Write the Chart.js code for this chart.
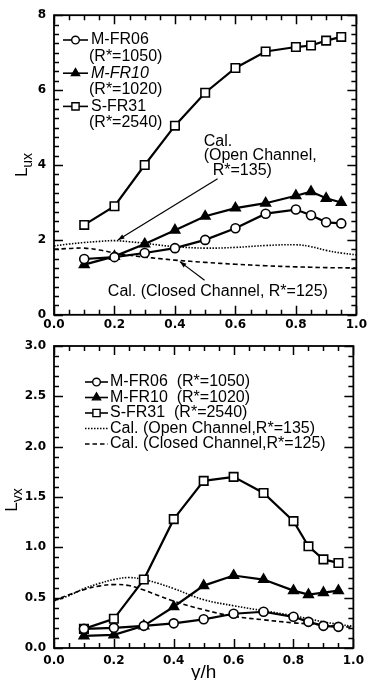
<!DOCTYPE html>
<html>
<head>
<meta charset="utf-8">
<script src="https://cdn.jsdelivr.net/npm/chart.js@4.4.1/dist/chart.umd.min.js"></script>
<style>
html, body { margin: 0; padding: 0; background: #fff; }
#wrap { position: relative; width: 370px; height: 680px; overflow: hidden; }
.box { position: absolute; left: 0; width: 370px; }
#top { top: 0; height: 330px; }
#bottom { top: 330px; height: 350px; }
</style>
</head>
<body>
<div id="wrap">
  <div class="box" id="top"><canvas id="luxChart" width="370" height="330"></canvas></div>
  <div class="box" id="bottom"><canvas id="lvxChart" width="370" height="350"></canvas></div>
</div>
<script>
// measurement stations (y/h)
var yh = [0.1, 0.2, 0.3, 0.4, 0.5, 0.6, 0.7, 0.8, 0.85, 0.9, 0.95];
// stations of the calculated profiles
var calYh = [0, 0.05, 0.1, 0.15, 0.2, 0.25, 0.3, 0.35, 0.4, 0.5, 0.6, 0.7, 0.8, 0.85, 0.9, 0.95, 1.0];

// streamwise length scale L_ux
var luxFR06 = [1.49, 1.54, 1.65, 1.78, 2.0, 2.31, 2.70, 2.81, 2.66, 2.47, 2.44];
var luxFR10 = [1.34, 1.56, 1.89, 2.26, 2.63, 2.85, 2.98, 3.18, 3.29, 3.11, 3.0];
var luxFR31 = [2.4, 2.9, 4.0, 5.05, 5.93, 6.59, 7.03, 7.15, 7.19, 7.32, 7.42];
var luxOpen = [1.84, 1.89, 1.93, 1.96, 1.98, 1.95, 1.91, 1.86, 1.82, 1.78, 1.80, 1.85, 1.87, 1.82, 1.72, 1.65, 1.60];
var luxClosed = [1.75, 1.77, 1.78, 1.73, 1.65, 1.59, 1.54, 1.50, 1.46, 1.40, 1.35, 1.31, 1.28, 1.27, 1.26, 1.255, 1.25];

// vertical length scale L_vx
var lvxFR06 = [0.19, 0.20, 0.22, 0.245, 0.285, 0.34, 0.36, 0.31, 0.26, 0.22, 0.21];
var lvxFR10 = [0.12, 0.13, 0.22, 0.41, 0.62, 0.72, 0.68, 0.57, 0.53, 0.55, 0.57];
var lvxFR31 = [0.19, 0.29, 0.68, 1.28, 1.66, 1.70, 1.54, 1.26, 1.01, 0.88, 0.845];
var lvxOpen = [0.47, 0.52, 0.59, 0.64, 0.68, 0.70, 0.68, 0.64, 0.59, 0.48, 0.42, 0.37, 0.32, 0.29, 0.26, 0.235, 0.215];
var lvxClosed = [0.47, 0.53, 0.58, 0.615, 0.63, 0.62, 0.575, 0.52, 0.465, 0.38, 0.315, 0.28, 0.25, 0.24, 0.228, 0.215, 0.205];

var xTicks = ['0.0', '0.2', '0.4', '0.6', '0.8', '1.0'];
var luxTicks = ['0', '2', '4', '6', '8'];
var lvxTicks = ['0.0', '0.5', '1.0', '1.5', '2.0', '2.5', '3.0'];

var FAMILY = '"Liberation Sans", Arial, sans-serif';

function pts(xs, ys) {
    return ys.map(function (v, i) { return { x: xs[i], y: v }; });
}

function measured(label, values, style, radius, fill) {
    return {
        label: label,
        data: pts(yh, values),
        showLine: true,
        borderColor: '#000',
        borderWidth: 2.2,
        pointStyle: style,
        pointRadius: radius,
        pointBorderWidth: 1.6,
        pointBorderColor: '#000',
        pointBackgroundColor: fill,
        clip: false
    };
}

function calc(label, values, dash) {
    return {
        label: label,
        data: pts(calYh, values),
        showLine: true,
        borderColor: '#000',
        borderWidth: 1.6,
        borderDash: dash,
        pointRadius: 0,
        tension: 0.4
    };
}

// frame with inward ticks on all four sides
function drawFrame(chart, c) {
    var ctx = chart.ctx, a = chart.chartArea;
    var xs = chart.scales.x, ys = chart.scales.y;
    function isMajor(v, step) { var r = v / step; return Math.abs(r - Math.round(r)) < 1e-6; }
    ctx.save();
    ctx.strokeStyle = '#000';
    ctx.lineWidth = 1.5;
    ctx.setLineDash([]);
    ctx.beginPath();
    var n = Math.round((c.xMax - c.xMin) / c.xMinor);
    for (var i = 0; i <= n; i++) {
        var v = c.xMin + i * c.xMinor;
        var px = Math.round(xs.getPixelForValue(v)) + 0.5;
        var len = isMajor(v, c.xMajor) ? 9 : 5;
        ctx.moveTo(px, a.bottom); ctx.lineTo(px, a.bottom - len);
        ctx.moveTo(px, a.top); ctx.lineTo(px, a.top + len);
    }
    n = Math.round((c.yMax - c.yMin) / c.yMinor);
    for (i = 0; i <= n; i++) {
        v = c.yMin + i * c.yMinor;
        var py = Math.round(ys.getPixelForValue(v)) + 0.5;
        len = isMajor(v, c.yMajor) ? 9 : 5;
        ctx.moveTo(a.left, py); ctx.lineTo(a.left + len, py);
        ctx.moveTo(a.right, py); ctx.lineTo(a.right - len, py);
    }
    ctx.stroke();
    ctx.lineWidth = 1.8;
    ctx.strokeRect(a.left, a.top, a.right - a.left, a.bottom - a.top);
    ctx.restore();
}

function drawKey(chart, ds, x0, x1, y) {
    var ctx = chart.ctx;
    ctx.save();
    ctx.strokeStyle = '#000';
    ctx.lineWidth = 1.6;
    ctx.setLineDash(ds.borderDash || []);
    ctx.beginPath();
    ctx.moveTo(x0, y); ctx.lineTo(x1, y);
    ctx.stroke();
    ctx.setLineDash([]);
    if (ds.pointRadius) {
        ctx.fillStyle = ds.pointBackgroundColor;
        ctx.strokeStyle = '#000';
        ctx.lineWidth = 1.4;
        Chart.helpers.drawPoint(ctx, {
            pointStyle: ds.pointStyle,
            radius: ds.pointRadius * 0.85,
            borderWidth: 1.4,
            rotation: 0
        }, (x0 + x1) / 2, y);
    }
    ctx.restore();
}

function drawArrow(ctx, x0, y0, x1, y1) {
    var ang = Math.atan2(y1 - y0, x1 - x0), h = 7;
    ctx.beginPath();
    ctx.moveTo(x0, y0); ctx.lineTo(x1, y1);
    ctx.stroke();
    ctx.beginPath();
    ctx.moveTo(x1, y1);
    ctx.lineTo(x1 - h * Math.cos(ang - 0.35), y1 - h * Math.sin(ang - 0.35));
    ctx.lineTo(x1 - h * Math.cos(ang + 0.35), y1 - h * Math.sin(ang + 0.35));
    ctx.closePath();
    ctx.fill();
}

function drawYTitle(ctx, cx, cy, main, sub) {
    ctx.save();
    ctx.translate(cx, cy);
    ctx.rotate(-Math.PI / 2);
    ctx.fillStyle = '#000';
    ctx.textBaseline = 'middle';
    ctx.font = '17px ' + FAMILY;
    var w1 = ctx.measureText(main).width;
    ctx.font = '14px ' + FAMILY;
    var w2 = ctx.measureText(sub).width;
    var start = -(w1 + w2) / 2;
    ctx.font = '17px ' + FAMILY;
    ctx.fillText(main, start, -2);
    ctx.font = '14px ' + FAMILY;
    ctx.fillText(sub, start + w1, 4);
    ctx.restore();
}

function decor(c) {
    return {
        id: 'decor',
        afterDraw: function (chart) {
            drawFrame(chart, c);
            var ctx = chart.ctx, xs = chart.scales.x, ys = chart.scales.y;
            var sets = chart.data.datasets;
            ctx.save();
            ctx.fillStyle = '#000';
            ctx.strokeStyle = '#000';
            ctx.textBaseline = 'middle';
            ctx.textAlign = 'left';
            // key
            c.key.forEach(function (k) {
                if (k.set !== undefined) drawKey(chart, sets[k.set], c.keyX0, c.keyX1, k.y);
                ctx.font = (k.italic ? 'italic ' : '') + '16px ' + FAMILY;
                ctx.fillText(k.text, k.x, k.y);
            });
            ctx.font = '16px ' + FAMILY;
            // notes and pointers, placed in data units
            (c.notes || []).forEach(function (n) {
                ctx.fillText(n.text, xs.getPixelForValue(n.x), ys.getPixelForValue(n.y));
            });
            ctx.lineWidth = 1.2;
            (c.pointers || []).forEach(function (p) {
                drawArrow(ctx, xs.getPixelForValue(p.from[0]), ys.getPixelForValue(p.from[1]),
                    xs.getPixelForValue(p.to[0]), ys.getPixelForValue(p.to[1]));
            });
            if (c.xTitle) {
                ctx.font = '19px ' + FAMILY;
                ctx.textAlign = 'center';
                ctx.fillText(c.xTitle, (chart.chartArea.left + chart.chartArea.right) / 2, c.xTitleY);
            }
            ctx.restore();
            drawYTitle(ctx, c.yTitleX, c.yTitleY, 'L', c.ySub);
        }
    };
}

function makeChart(id, sets, c, yLabels, yStep, areaTop, areaBottom, canvasH, xPad) {
    return new Chart(document.getElementById(id), {
        type: 'scatter',
        data: { datasets: sets },
        options: {
            responsive: false,
            animation: false,
            devicePixelRatio: 1,
            layout: { padding: { top: areaTop, right: 12, left: 0, bottom: 0 } },
            plugins: { legend: { display: false }, tooltip: { enabled: false } },
            scales: {
                x: {
                    type: 'linear', min: c.xMin, max: c.xMax,
                    grid: { display: false, drawTicks: false },
                    border: { display: false },
                    ticks: {
                        stepSize: 0.2, padding: xPad, color: '#000',
                        font: { family: 'DejaVu Sans', size: 12, weight: 'bold' },
                        callback: function (v, i) { return xTicks[i]; }
                    },
                    afterFit: function (s) { s.height = canvasH - areaBottom; }
                },
                y: {
                    min: c.yMin, max: c.yMax,
                    grid: { display: false, drawTicks: false },
                    border: { display: false },
                    ticks: {
                        stepSize: yStep, padding: 8, color: '#000',
                        font: { family: 'DejaVu Sans', size: 12, weight: 'bold' },
                        callback: function (v, i) { return yLabels[i]; }
                    },
                    afterFit: function (s) { s.width = 54; }
                }
            }
        },
        plugins: [decor(c)]
    });
}

makeChart('luxChart', [
    measured('M-FR06', luxFR06, 'circle', 4.5, '#fff'),
    measured('M-FR10', luxFR10, 'triangle', 5.5, '#000'),
    measured('S-FR31', luxFR31, 'rect', 6, '#fff'),
    calc('Cal. (Open Channel, R*=135)', luxOpen, [1.5, 1.5]),
    calc('Cal. (Closed Channel, R*=125)', luxClosed, [4.5, 3])
], {
    xMin: 0, xMax: 1, yMin: 0, yMax: 8,
    xMinor: 0.05, xMajor: 0.2, yMinor: 0.25, yMajor: 2,
    keyX0: 63, keyX1: 88,
    key: [
        { set: 0, text: 'M-FR06', x: 91, y: 40 },
        { text: '(R*=1050)', x: 89, y: 56.6 },
        { set: 1, text: 'M-FR10', x: 91, y: 73.2, italic: true },
        { text: '(R*=1020)', x: 89, y: 89.8 },
        { set: 2, text: 'S-FR31', x: 91, y: 106.4 },
        { text: '(R*=2540)', x: 89, y: 123 }
    ],
    notes: [
        { text: 'Cal.', x: 0.495, y: 4.63 },
        { text: '(Open Channel,', x: 0.495, y: 4.24 },
        { text: 'R*=135)', x: 0.525, y: 3.84 },
        { text: 'Cal. (Closed Channel, R*=125)', x: 0.178, y: 0.63 }
    ],
    pointers: [
        { from: [0.541, 3.63], to: [0.211, 2.0] },
        { from: [0.498, 0.92], to: [0.416, 1.42] }
    ],
    yTitleX: 24, yTitleY: 165, ySub: 'ux'
}, luxTicks, 2, 12, 316, 330, 3);

makeChart('lvxChart', [
    measured('M-FR06', lvxFR06, 'circle', 4.5, '#fff'),
    measured('M-FR10', lvxFR10, 'triangle', 5.5, '#000'),
    measured('S-FR31', lvxFR31, 'rect', 6, '#fff'),
    calc('Cal. (Open Channel,R*=135)', lvxOpen, [1.5, 1.5]),
    calc('Cal. (Closed Channel,R*=125)', lvxClosed, [4.5, 3])
], {
    xMin: 0, xMax: 1, yMin: 0, yMax: 3,
    xMinor: 0.05, xMajor: 0.2, yMinor: 0.1, yMajor: 0.5,
    keyX0: 85, keyX1: 108,
    key: [
        { set: 0, text: 'M-FR06  (R*=1050)', x: 110, y: 52 },
        { set: 1, text: 'M-FR10  (R*=1020)', x: 110, y: 67.5 },
        { set: 2, text: 'S-FR31  (R*=2540)', x: 110, y: 83 },
        { set: 3, text: 'Cal. (Open Channel,R*=135)', x: 110, y: 98.5 },
        { set: 4, text: 'Cal. (Closed Channel,R*=125)', x: 110, y: 114 }
    ],
    xTitle: 'y/h', xTitleY: 343,
    yTitleX: 14, yTitleY: 170, ySub: 'vx'
}, lvxTicks, 0.5, 16, 318, 350, 6);
</script>
</body>
</html>
